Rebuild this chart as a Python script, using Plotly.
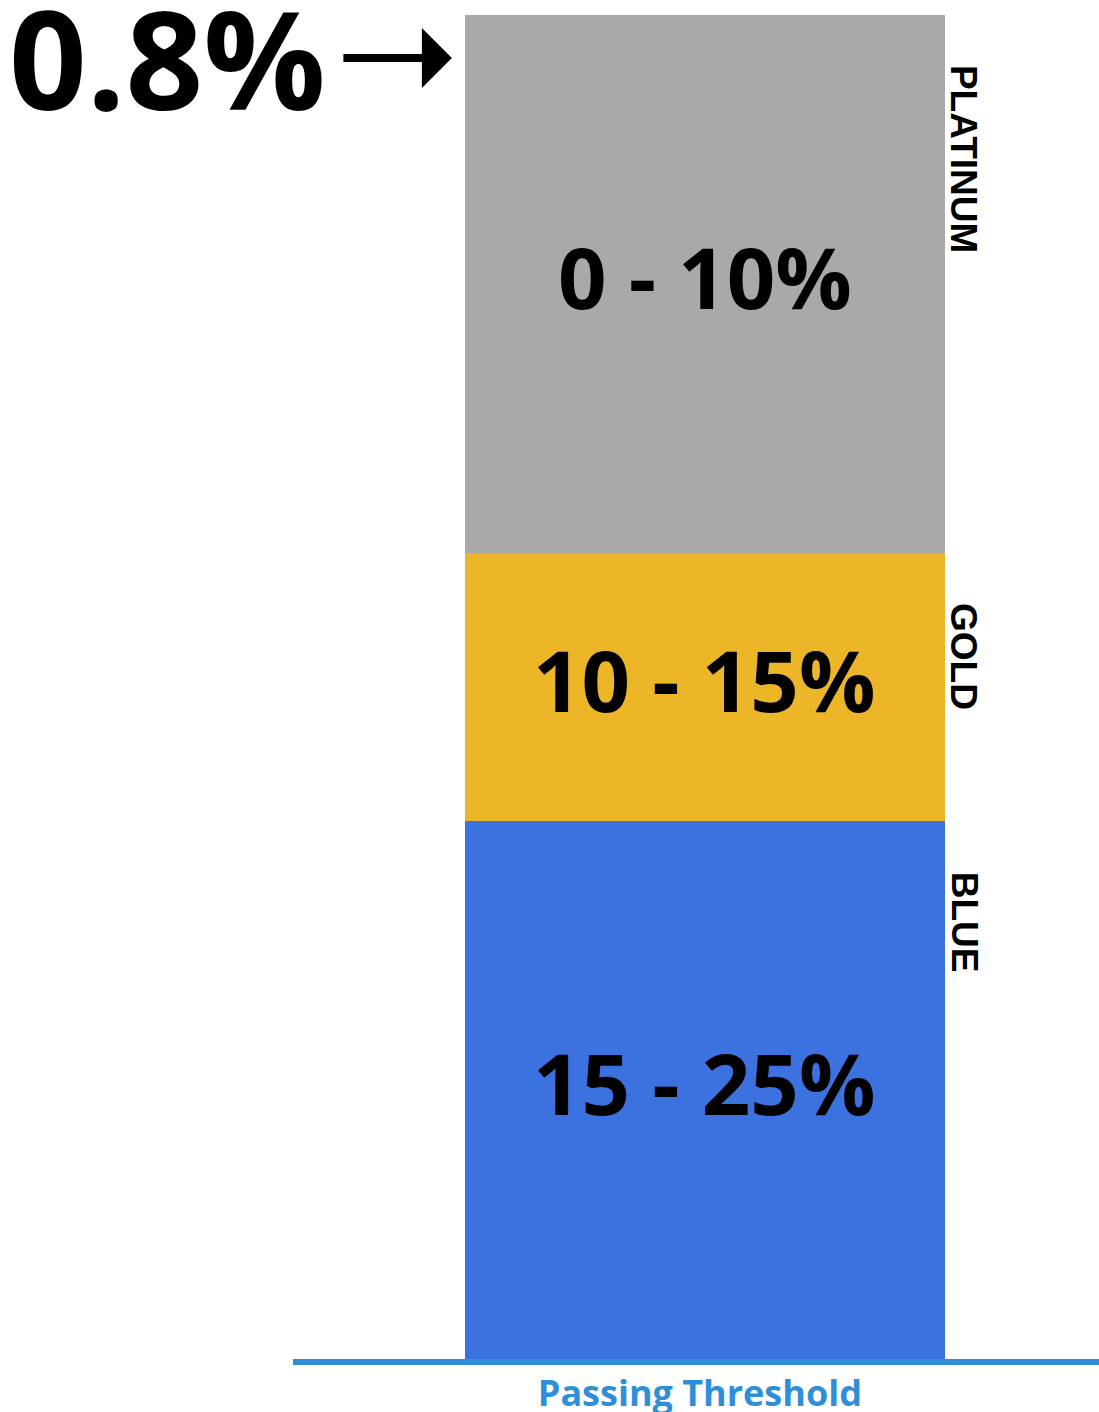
import plotly.graph_objects as go

# Tier bands of the passing threshold (percent ranges, stacked from 0 at the top)
tiers = ["PLATINUM", "GOLD", "BLUE"]
band_widths = [10, 5, 10]
band_labels = ["0 - 10%", "10 - 15%", "15 - 25%"]
tier_colors = ["#a9a9a9", "#edb628", "#3c71e0"]
category = ["Passing Threshold"]
current_value = 0.8
current_label = "0.8%"

fig = go.Figure()
starts = []
acc = 0
for name, w, col in zip(tiers, band_widths, tier_colors):
    starts.append(acc)
    acc += w
    fig.add_trace(go.Bar(
        x=[0], y=[w], name=name, width=1,
        marker=dict(color=col, line=dict(width=0)),
        hoverinfo="skip",
    ))

# Range label centred in each band
for lab, s, w in zip(band_labels, starts, band_widths):
    fig.add_annotation(
        x=0, y=s + w / 2, xref="x", yref="y", text=f"<b>{lab}</b>",
        showarrow=False, xanchor="center", yanchor="middle", yshift=8,
        font=dict(family="Open Sans", size=85, color="black"),
    )

# Tier names running down the right edge of each band
for name, s in zip(tiers, starts):
    fig.add_annotation(
        x=0.54, y=s, xref="x", yref="y", text=f"<b>{name}</b>",
        textangle=90, showarrow=False, xanchor="center", yanchor="top",
        yshift=-48, font=dict(family="Liberation Sans", size=37, color="black"),
    )

# Current value marker with arrow
fig.add_annotation(
    x=-0.527, y=current_value, xref="x", yref="y", text="",
    showarrow=True, axref="pixel", ayref="pixel", ax=-110, ay=0,
    arrowhead=1, arrowwidth=8, arrowsize=1.25, arrowcolor="black",
)
fig.add_annotation(
    x=-0.785, y=current_value, xref="x", yref="y", text=f"<b>{current_label}</b>",
    showarrow=False, xanchor="right", yanchor="middle", yshift=1,
    font=dict(family="Open Sans", size=136, color="black"),
)

fig.update_layout(
    width=1099, height=1412, barmode="stack", showlegend=False,
    margin=dict(l=293, r=0, t=15, b=53),
    paper_bgcolor="white", plot_bgcolor="white",
    xaxis=dict(
        range=[-0.858, 0.821], tickmode="array", tickvals=[0], ticktext=category,
        automargin=False,
        showline=True, linecolor="#2e8fd8", linewidth=6, showgrid=False,
        zeroline=False, ticks="", ticklen=0, ticklabelshift=-5, ticklabelstandoff=-2,
        tickfont=dict(family="Open Sans", size=36, color="#2e8fd8", weight="bold"),
    ),
    yaxis=dict(range=[25, 0], visible=False, showgrid=False, zeroline=False,
               automargin=False),
)

fig.write_html("out.html")
